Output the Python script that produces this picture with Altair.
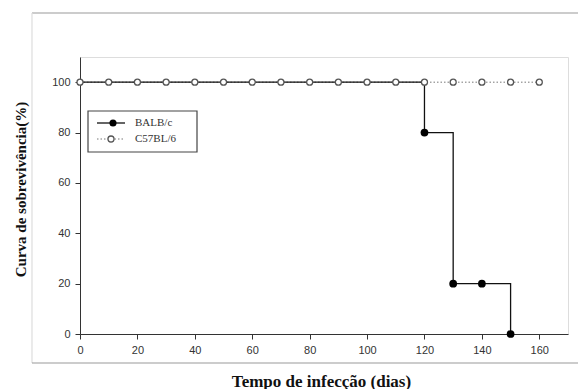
import altair as alt
import pandas as pd

# ---- data ----
balb_days = [0, 120, 130, 140, 150]
balb_surv = [100, 80, 20, 20, 0]
c57_days = [0, 10, 20, 30, 40, 50, 60, 70, 80, 90, 100, 110, 120, 130, 140, 150, 160]
c57_surv = [100, 100, 100, 100, 100, 100, 100, 100, 100, 100, 100, 100, 100, 100, 100, 100, 100]
x_ticks = [0, 20, 40, 60, 80, 100, 120, 140, 160]
y_ticks = [0, 20, 40, 60, 80, 100]
legend_labels = ["BALB/c", "C57BL/6"]
x_title = "Tempo de infecção (dias)"
y_title = "Curva de sobrevivência(%)"

balb = pd.DataFrame({"day": balb_days, "surv": balb_surv})
c57 = pd.DataFrame({"day": c57_days, "surv": c57_surv})
one = pd.DataFrame({"k": [0]})

xs = alt.Scale(domain=[0, 170], nice=False, zero=False)
ys = alt.Scale(domain=[0, 110], nice=False)

x_axis = alt.Axis(values=x_ticks, title=x_title, grid=False, tickSize=5, labelPadding=5,
                  labelFont="Liberation Sans", labelFontSize=11, labelColor="#333",
                  titleFont="Liberation Serif", titleFontSize=17, titleFontWeight="bold",
                  titleColor="#111", titleX=241, titleY=47, titleBaseline="middle",
                  domainColor="#333", tickColor="#333", labelFlush=False)
y_axis = alt.Axis(values=y_ticks, title=y_title, grid=False, tickSize=5, labelPadding=5,
                  labelFont="Liberation Sans", labelFontSize=11, labelColor="#333",
                  titleFont="Liberation Serif", titleFontSize=15, titleFontWeight="bold",
                  titleColor="#111", titleX=-60, titleY=132, titleAngle=-90,
                  titleBaseline="middle", titleAlign="center",
                  domainColor="#333", tickColor="#333")

X = alt.X("day:Q", scale=xs, axis=x_axis)
Y = alt.Y("surv:Q", scale=ys, axis=y_axis)

c57_line = alt.Chart(c57).mark_line(color="#777", strokeWidth=1, strokeDash=[1.5, 2]).encode(x=X, y=Y)
balb_line = alt.Chart(balb).mark_line(color="#111", strokeWidth=1.3, interpolate="step-after").encode(x=X, y=Y)
balb_pts = alt.Chart(balb).transform_filter(alt.datum.day > 0).mark_point(
    shape="circle", filled=True, color="#000", size=60, opacity=1).encode(x=X, y=Y)
c57_pts = alt.Chart(c57).mark_point(shape="circle", filled=True, fill="white", stroke="#555",
                                    strokeWidth=1.3, size=36, opacity=1).encode(x=X, y=Y)

# ---- outer picture frame (decoration) ----
top_line = alt.Chart(one).mark_rule(color="#999", strokeWidth=1.2).encode(
    x=alt.value(-48), x2=alt.value(520), y=alt.value(-44))
left_line = alt.Chart(one).mark_rule(color="#ddd", strokeWidth=1.2).encode(
    x=alt.value(-48), y=alt.value(-44), y2=alt.value(306))
bottom_line = alt.Chart(one).mark_rule(color="#999", strokeWidth=1.2).encode(
    x=alt.value(-48), x2=alt.value(520), y=alt.value(306))

# ---- legend (hand drawn) ----
leg_box = alt.Chart(one).mark_rect(fill="white", stroke="#444", strokeWidth=1.2).encode(
    x=alt.value(8), x2=alt.value(117), y=alt.value(54), y2=alt.value(95))
leg_l1 = alt.Chart(one).mark_rule(color="#111", strokeWidth=1.3).encode(
    x=alt.value(17), x2=alt.value(45), y=alt.value(66))
leg_p1 = alt.Chart(one).mark_point(shape="circle", filled=True, color="#000", size=50, opacity=1).encode(
    x=alt.value(33), y=alt.value(66))
leg_l2 = alt.Chart(one).mark_rule(color="#777", strokeWidth=1, strokeDash=[1.5, 2]).encode(
    x=alt.value(17), x2=alt.value(45), y=alt.value(82))
leg_p2 = alt.Chart(one).mark_point(shape="circle", filled=True, fill="white", stroke="#555",
                                   strokeWidth=1.3, size=36, opacity=1).encode(
    x=alt.value(31), y=alt.value(82))
leg_t1 = alt.Chart(one).mark_text(align="left", baseline="middle", font="Liberation Serif",
                                  fontSize=11, color="#333").encode(
    x=alt.value(55), y=alt.value(66), text=alt.value(legend_labels[0]))
leg_t2 = alt.Chart(one).mark_text(align="left", baseline="middle", font="Liberation Serif",
                                  fontSize=11, color="#333").encode(
    x=alt.value(55), y=alt.value(82), text=alt.value(legend_labels[1]))

chart = alt.layer(
    top_line, left_line, bottom_line,
    c57_line, balb_line, balb_pts, c57_pts,
    leg_box, leg_l1, leg_p1, leg_l2, leg_p2, leg_t1, leg_t2,
).properties(
    width=488, height=277,
    autosize=alt.AutoSizeParams(type="none"),
    padding={"left": 72, "top": 49, "right": 10, "bottom": 55},
).configure_view(stroke="#333", strokeWidth=1.3).configure(background="white")

chart.save("out.html", embed_options={"renderer": "svg", "actions": False})
